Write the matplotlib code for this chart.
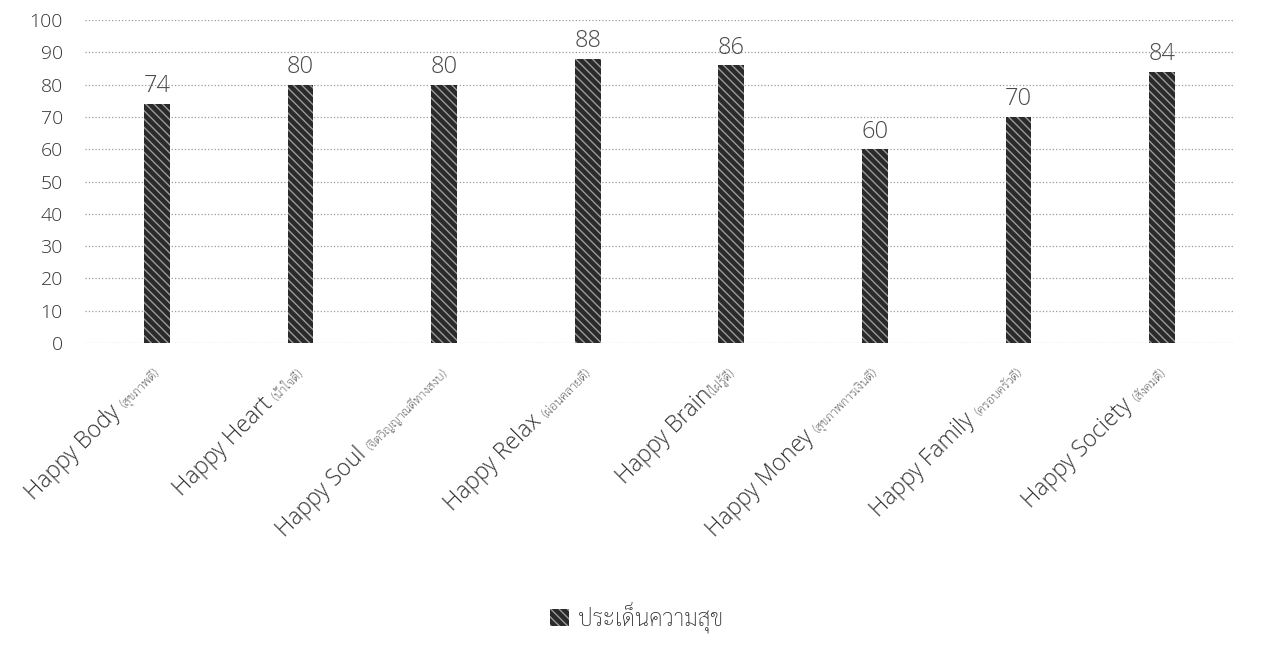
import matplotlib
matplotlib.use("Agg")
import matplotlib.pyplot as plt
from matplotlib import font_manager
from matplotlib.font_manager import FontProperties
from matplotlib.patches import Patch

# data
labels_en = ["Happy Body ", "Happy Heart ", "Happy Soul ", "Happy Relax ",
             "Happy Brain", "Happy Money ", "Happy Family ", "Happy Society "]
labels_th = ["(สุขภาพดี)", "(น้ำใจดี)", "(จิตวิญญาณดีทางสงบ)", "(ผ่อนคลายดี)",
             "(ใฝ่รู้ดี)", "(สุขภาพการเงินดี)", "(ครอบครัวดี)", "(สังคมดี)"]
values = [74, 80, 80, 88, 86, 60, 70, 84]
yticks = list(range(0, 101, 10))
legend_label = "ประเด็นความสุข"

# pick a Thai font that is installed
names = {f.name for f in font_manager.fontManager.ttflist}
thai = next((n for n in ["Sarabun", "Noto Sans Thai Looped", "Noto Sans Thai",
                         "Athiti", "Bai Jamjuree"] if n in names), "DejaVu Sans")
latin = "Open Sans"
plt.rcParams['font.family'] = [latin, thai, 'DejaVu Sans']
plt.rcParams['font.weight'] = 'light'

txt = '#333333'
fig = plt.figure(figsize=(12.63, 6.58), dpi=100)
ax = fig.add_axes([0.0673, 0.4787, 0.9097, 0.4909])

x = list(range(len(values)))
plt.rcParams['hatch.linewidth'] = 1.0
bars = ax.bar(x, values, width=0.18, color='#2a2a2a', edgecolor='#9a9a9a',
              hatch='\\\\\\\\', linewidth=0, zorder=3)

for xi, v in zip(x, values):
    ax.annotate(str(v), xy=(xi, v), xytext=(0, 4), textcoords='offset points',
                ha='center', va='bottom', fontsize=17, color='#4a4a4a',
                family=[latin, 'DejaVu Sans'], weight='light')

ax.set_xlim(-0.5, len(values) - 0.5)
ax.set_ylim(0, 100)
ax.set_yticks(yticks)
ax.set_xticks(x)
ax.set_xticklabels([])
ax.tick_params(axis='y', length=0, pad=16, labelsize=14, labelcolor=txt)
ax.tick_params(axis='x', length=0)
ax.grid(axis='y', color='#9a9a9a', linestyle=':', linewidth=0.9, zorder=0)
for s in ax.spines.values():
    s.set_visible(False)

# rotated category labels: large English part + small Thai part
fig.canvas.draw()
r = fig.canvas.get_renderer()
th_prop = FontProperties(family=[thai], size=9)
c = 0.7071
for xi, en, th in zip(x, labels_en, labels_th):
    w, h, d = r.get_text_width_height_descent(th, th_prop, ismath=False)
    w_pt = w * 72 / fig.dpi
    ox, oy = 3, -22
    ax.annotate(th, xy=(xi, 0), xytext=(ox, oy), textcoords='offset points',
                rotation=45, rotation_mode='anchor', ha='right', va='baseline',
                fontproperties=th_prop, color=txt, annotation_clip=False)
    ax.annotate(en, xy=(xi, 0), xytext=(ox - w_pt * c, oy - w_pt * c),
                textcoords='offset points', rotation=45, rotation_mode='anchor',
                ha='right', va='baseline', fontsize=16.5, color=txt,
                family=[latin, 'DejaVu Sans'], weight='light',
                annotation_clip=False)

handle = Patch(facecolor='#2a2a2a', edgecolor='#9a9a9a', hatch='\\\\\\\\', linewidth=0)
fig.legend([handle], [legend_label], loc='center', bbox_to_anchor=(0.504, 0.062),
           frameon=False, prop=FontProperties(family=[thai], size=16.5),
           handlelength=0.8, handleheight=0.8, handletextpad=0.4,
           labelcolor=txt)

fig.savefig("out.png", dpi=100)
